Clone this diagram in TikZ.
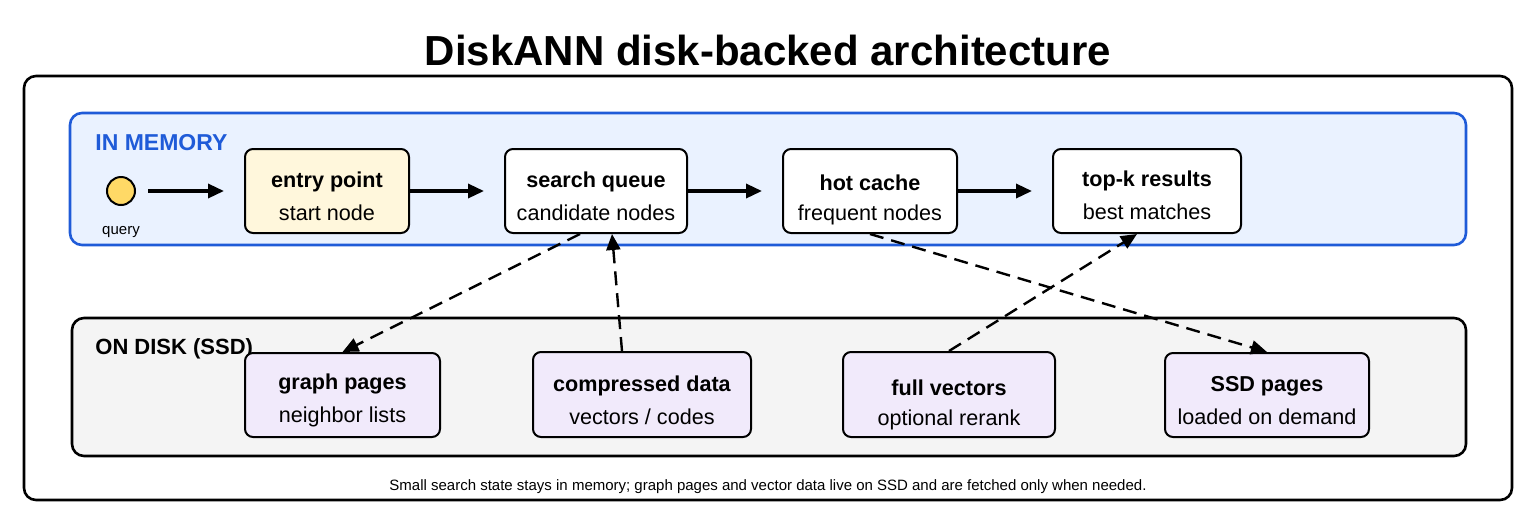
\documentclass[tikz,border=0pt]{standalone}
\usepackage{fontspec}
\setmainfont{Liberation Sans}
\usetikzlibrary{arrows.meta}
\definecolor{memfill}{HTML}{EAF2FF}
\definecolor{memline}{HTML}{1F5BD8}
\definecolor{entryfill}{HTML}{FFF7DC}
\definecolor{diskfill}{HTML}{F4F4F4}
\definecolor{purp}{HTML}{F1EAFB}
\definecolor{qfill}{HTML}{FFD966}
\tikzset{
  box/.style={draw=black, line width=1pt, rounded corners=4pt},
  txt/.style={align=center, font=\fontsize{10.8}{16.5}\selectfont, inner sep=0pt},
  flow/.style={-{Triangle[length=8pt,width=7pt]}, line width=1.7pt},
  dflow/.style={-{Triangle[length=8pt,width=7pt]}, line width=1.2pt, dash pattern=on 7pt off 4pt},
}
\begin{document}
\begin{tikzpicture}[x=0.5pt,y=-0.5pt]
\useasboundingbox (0,0) rectangle (1536,526);
\node[font=\bfseries\fontsize{21}{24}\selectfont] (title) at (768,50) {DiskANN disk-backed architecture};
\draw[line width=1.3pt, rounded corners=6pt] (24,76) rectangle (1512,500);
\draw[line width=1.3pt, rounded corners=6pt, draw=memline, fill=memfill] (70,113) rectangle (1466,245);
\node[anchor=west, inner sep=0pt, text=memline, font=\bfseries\fontsize{11.5}{14}\selectfont] (memlbl) at (95,143) {IN MEMORY};
\draw[line width=1.3pt, rounded corners=6pt, fill=diskfill] (72,318) rectangle (1466,456);
\node[anchor=west, inner sep=0pt, font=\bfseries\fontsize{11}{14}\selectfont] (disklbl) at (95,349) {ON DISK (SSD)};

\node[circle, draw, line width=1pt, fill=qfill, minimum size=14pt, inner sep=0pt] (q) at (121,191) {};
\node[font=\fontsize{7.5}{9}\selectfont] (qlbl) at (121,232) {query};

\node[box, fill=entryfill, minimum width=82pt, minimum height=42pt] (entry) at (327,191) {};
\node[box, fill=white, minimum width=91pt, minimum height=42pt] (sq) at (596,191) {};
\node[box, fill=white, minimum width=87pt, minimum height=42pt] (hc) at (870,191) {};
\node[box, fill=white, minimum width=94pt, minimum height=42pt] (tk) at (1147,191) {};
\node[txt] (entryt) at ([yshift=-2.5pt]entry.center) {\textbf{entry point}\\start node};
\node[txt] (sqt) at ([yshift=-2.5pt]sq.center) {\textbf{search queue}\\candidate nodes};
\node[txt, font=\fontsize{10.8}{15}\selectfont] (hct) at ([yshift=-4.5pt]hc.center) {\textbf{hot cache}\\frequent nodes};
\node[txt] (tkt) at ([yshift=-2pt]tk.center) {\textbf{top-k results}\\best matches};

\node[box, fill=purp, minimum width=97.5pt, minimum height=42pt] (gp) at (342.5,395) {};
\node[box, fill=purp, minimum width=109pt, minimum height=42.5pt] (cd) at (642,394.5) {};
\node[box, fill=purp, minimum width=106pt, minimum height=42.5pt] (fv) at (949,394.5) {};
\node[box, fill=purp, minimum width=102pt, minimum height=42pt] (sp) at (1267,395) {};
\node[txt] (gpt) at ([yshift=-2.5pt]gp.center) {\textbf{graph pages}\\neighbor lists};
\node[txt] (cdt) at ([yshift=-3pt]cd.center) {\textbf{compressed data}\\vectors / codes};
\node[txt, font=\fontsize{10.8}{15}\selectfont] (fvt) at ([yshift=-5pt]fv.center) {\textbf{full vectors}\\optional rerank};
\node[txt] (spt) at ([yshift=-3pt]sp.center) {\textbf{SSD pages}\\loaded on demand};

\draw[flow, shorten <=6pt, shorten >=10pt] (q) -- (entry);
\draw[flow, shorten >=10pt] (entry) -- (sq);
\draw[flow, shorten >=10pt] (sq) -- (hc);
\draw[flow, shorten >=10pt] (hc) -- (tk);

\draw[dflow] (sq.south west -| 580,0) -- (gp.north);
\draw[dflow] (cd.north west -| 622,0) -- (sq.south west -| 612,0);
\draw[dflow] (hc.south) -- (sp.north);
\draw[dflow] (fv.north) -- (tk.south west -| 1137,0);

\node[font=\fontsize{7.5}{9}\selectfont] (foot) at (768,487) {Small search state stays in memory; graph pages and vector data live on SSD and are fetched only when needed.};
\end{tikzpicture}
\end{document}
